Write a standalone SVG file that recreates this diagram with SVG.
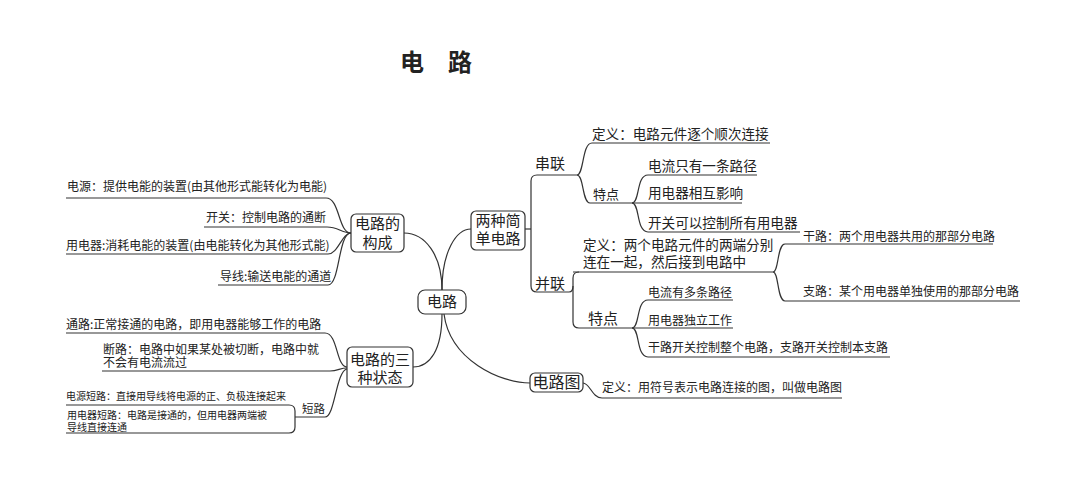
<svg xmlns="http://www.w3.org/2000/svg" width="1080" height="496" viewBox="0 0 1080 496">
<style>
text{font-family:"Noto Sans CJK SC","Noto Sans",sans-serif;fill:#222}
.n{text-anchor:middle;font-size:15px}
.l12{font-size:12px}
.l10{font-size:10px}
.l14{font-size:13.6px}
.box{fill:#fff;stroke:#333;stroke-width:1.2}
.c path{fill:none;stroke:#333;stroke-width:1.2}
</style>
<rect width="1080" height="496" fill="#fff"/>
<text x="400" y="71" style="font-size:24px;font-weight:bold">电　路</text>

<g class="c" id="connectors">
<path d="M442,290 C442,255 425,233 404,233"/>
<path d="M442,290 C442,252 456,229 471,229"/>
<path d="M442,314 C442,350 430,367 413,367"/>
<path d="M444,314 C450,360 500,383 530,383"/>
<path d="M66,198 H326 C340,198 338,233 351,233"/>
<path d="M204,227 H327 C338,227 342,233 351,233"/>
<path d="M66,254 H328 C338,254 342,233 351,233"/>
<path d="M218,285 H328 C340,285 338,233 351,233"/>
<path d="M66,333 H325 C338,333 336,367 347,367"/>
<path d="M102,371 H330 C338,371 340,368 347,368"/>
<path d="M295,417 H325 C335,417 336,371 347,369"/>
<path d="M66,405 H289 Q295,405 295,411 V427 Q295,433 289,433 H66"/>
<path d="M525,229 H531"/>
<path d="M577,175 H537 Q531,175 531,181 V286 Q531,292 537,292 H569"/>
<path d="M569,292 C572,292 573,290 573,286"/>
<path d="M577,175 C584,175 582,143 592,143 H770"/>
<path d="M577,175 C584,175 582,203 590,203 H632"/>
<path d="M632,203 C640,203 636,175 648,175 H757"/>
<path d="M632,203 H742"/>
<path d="M632,203 C640,203 636,232 648,232 H800"/>
<path d="M579,272 Q573,272 573,278 V322 Q573,328 579,328 H632"/>
<path d="M573,272 H773"/>
<path d="M773,272 C779,272 777,244 785,244 H993"/>
<path d="M773,272 C779,272 777,301 785,301 H1020"/>
<path d="M632,328 C640,328 636,300 648,300 H733"/>
<path d="M632,328 H733"/>
<path d="M632,328 C640,328 636,357 648,357 H890"/>
<path d="M583,383 C590,383 592,398 602,398 H842"/>
</g>

<g id="root"><rect class="box" x="418" y="290" width="48" height="24" rx="7"/><text class="n" x="442" y="307">电路</text></g>
<g id="goucheng"><rect class="box" x="351" y="214" width="53" height="38" rx="5"/><text class="n" x="377.5" y="229">电路的<tspan x="377.5" y="248">构成</tspan></text></g>
<g id="liangzhong"><rect class="box" x="471" y="211" width="54" height="39" rx="5"/><text class="n" x="498" y="226">两种简<tspan x="498" y="244">单电路</tspan></text></g>
<g id="zhuangtai"><rect class="box" x="347" y="347" width="66" height="40" rx="5"/><text class="n" x="380" y="365">电路的三<tspan x="380" y="383">种状态</tspan></text></g>
<g id="dianlutu"><rect class="box" x="530" y="373" width="53" height="19" rx="5"/><text class="n" x="556.5" y="388" style="font-size:16px">电路图</text></g>

<g id="gc-leaves">
<text class="l12" x="67" y="191">电源：提供电能的装置(由其他形式能转化为电能)</text>
<text class="l12" x="206" y="222">开关：控制电路的通断</text>
<text class="l12" x="66" y="250">用电器:消耗电能的装置(由电能转化为其他形式能)</text>
<text class="l12" x="220" y="281">导线:输送电能的通道</text>
</g>
<g id="zt-leaves">
<text class="l12" x="66" y="329">通路:正常接通的电路，即用电器能够工作的电路</text>
<text class="l12" x="103" y="354">断路：电路中如果某处被切断，电路中就<tspan x="103" y="367">不会有电流流过</tspan></text>
<text class="l12" x="302" y="413" style="font-size:11.5px">短路</text>
<text class="l10" x="66" y="400">电源短路：直接用导线将电源的正、负极连接起来</text>
<text class="l10" x="67" y="419">用电器短路：电路是接通的，但用电器两端被<tspan x="67" y="431">导线直接连通</tspan></text>
</g>
<g id="chuanlian">
<text x="535" y="169" style="font-size:15px">串联</text>
<text class="l14" x="592" y="139">定义：电路元件逐个顺次连接</text>
<text x="593" y="199" style="font-size:13px">特点</text>
<text class="l14" x="648" y="171">电流只有一条路径</text>
<text class="l14" x="648" y="198">用电器相互影响</text>
<text class="l14" x="648" y="228">开关可以控制所有用电器</text>
</g>
<g id="binglian">
<text x="535" y="289" style="font-size:15px">并联</text>
<text class="l14" x="583" y="250">定义：两个电路元件的两端分别<tspan x="583" y="267">连在一起，然后接到电路中</tspan></text>
<text class="l12" x="803" y="241">干路：两个用电器共用的那部分电路</text>
<text class="l12" x="803" y="296">支路：某个用电器单独使用的那部分电路</text>
<text x="588" y="324" style="font-size:15px">特点</text>
<text class="l12" x="648" y="297">电流有多条路径</text>
<text class="l12" x="648" y="325">用电器独立工作</text>
<text class="l12" x="648" y="352">干路开关控制整个电路，支路开关控制本支路</text>
</g>
<g id="tu-leaf">
<text class="l12" x="602" y="392">定义：用符号表示电路连接的图，叫做电路图</text>
</g>
</svg>
